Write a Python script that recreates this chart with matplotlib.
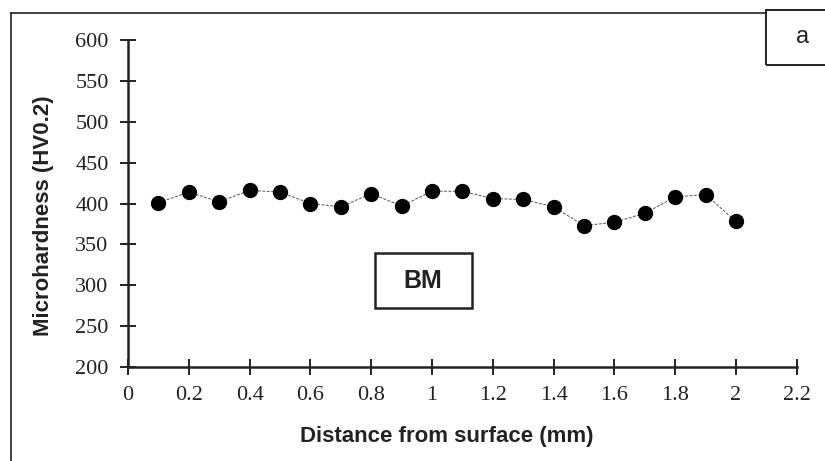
import matplotlib.pyplot as plt
from matplotlib.patches import Rectangle
from matplotlib.lines import Line2D

distance = [0.1, 0.2, 0.3, 0.4, 0.5, 0.6, 0.7, 0.8, 0.9, 1.0,
            1.1, 1.2, 1.3, 1.4, 1.5, 1.6, 1.7, 1.8, 1.9, 2.0]
hardness = [401, 414, 402, 416, 414, 400, 396, 412, 397, 415,
            415, 406, 405, 396, 373, 377, 388, 408, 411, 378]

x_ticks = [0, 0.2, 0.4, 0.6, 0.8, 1, 1.2, 1.4, 1.6, 1.8, 2, 2.2]
x_labels = ['0', '0.2', '0.4', '0.6', '0.8', '1', '1.2', '1.4', '1.6', '1.8', '2', '2.2']
y_ticks = [200, 250, 300, 350, 400, 450, 500, 550, 600]

fig = plt.figure(figsize=(8.25, 4.61), dpi=100)
ax = fig.add_axes([0.1552, 0.2039, 0.8105, 0.7093])

ax.plot(distance, hardness, color='#555555', lw=0.7, ls=(0, (3, 1.5)),
        marker='o', ms=10, mfc='black', mec='black')

ax.set_xlim(0, 2.2)
ax.set_ylim(200, 600)
ax.set_xticks(x_ticks)
ax.set_xticklabels(x_labels)
ax.set_yticks(y_ticks)
for lbl in ax.get_xticklabels() + ax.get_yticklabels():
    lbl.set_family('Liberation Serif')
    lbl.set_fontsize(16)
ax.tick_params(direction='inout', length=12, width=1.4, colors='#222222')
ax.tick_params(axis='x', pad=8)
ax.tick_params(axis='y', pad=8)

ax.spines['top'].set_visible(False)
ax.spines['right'].set_visible(False)
ax.spines['left'].set_linewidth(1.8)
ax.spines['bottom'].set_linewidth(1.8)
ax.spines['left'].set_color('#222222')
ax.spines['bottom'].set_color('#222222')

ax.set_xlabel('Distance from surface (mm)', family='Liberation Sans',
              fontsize=16, fontweight='bold', color='#222222')
ax.set_ylabel('Microhardness (HV0.2)', family='Liberation Sans',
              fontsize=16, fontweight='bold', color='#222222')
ax.xaxis.set_label_coords(0.477, -0.18)
ax.yaxis.set_label_coords(-0.111, 0.462)

# "BM" label box
fig.patches.append(Rectangle((375 / 825, 1 - 308 / 461), 97 / 825, 55 / 461,
                             transform=fig.transFigure, fill=False,
                             ec='#222222', lw=1.8))
fig.text(423 / 825, 1 - 281 / 461, 'BM', family='Liberation Sans',
         fontsize=18, fontweight='bold', ha='center', va='center', color='#222222')

# outer frame and panel tag
fig.add_artist(Line2D([11 / 825, 766 / 825], [1 - 13 / 461, 1 - 13 / 461],
                      transform=fig.transFigure, color='#222222', lw=1.2))
fig.add_artist(Line2D([11 / 825, 11 / 825], [0, 1 - 13 / 461],
                      transform=fig.transFigure, color='#222222', lw=1.2))
fig.patches.append(Rectangle((766 / 825, 1 - 65 / 461), 70 / 825, 55 / 461,
                             transform=fig.transFigure, fill=False,
                             ec='#222222', lw=1.4))
fig.text(803 / 825, 1 - 37 / 461, 'a', family='Liberation Sans',
         fontsize=17, ha='center', va='center', color='#222222')

fig.savefig('out.png', dpi=100)
